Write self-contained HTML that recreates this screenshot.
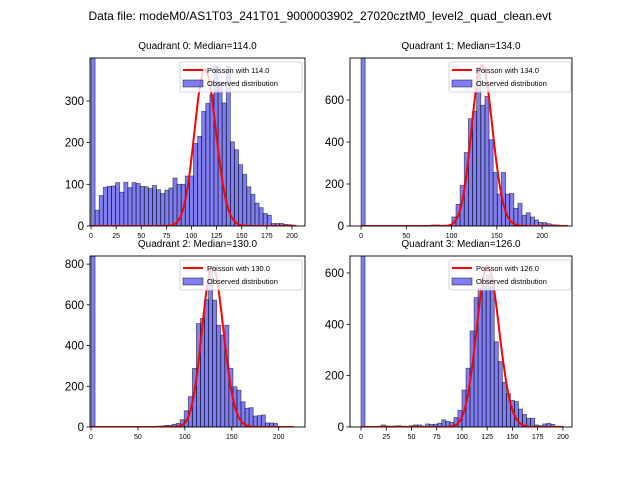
<!DOCTYPE html>
<html><head><meta charset="utf-8"><style>
body{margin:0;background:#fff;width:640px;height:480px;overflow:hidden}
svg text{font-family:"Liberation Sans","DejaVu Sans",sans-serif;fill:#000}
</style></head><body>
<svg id="fig" width="640" height="480" viewBox="0 0 640 480" xmlns="http://www.w3.org/2000/svg">
<text x="320" y="20" font-size="12" text-anchor="middle">Data file: modeM0/AS1T03_241T01_9000003902_27020cztM0_level2_quad_clean.evt</text>
</svg>
<script>
const q0Counts=[900,38,73,93,95,96,104,81,105,92,104,102,95,94,90,97,87,78,86,91,115,100,100,120,120,198,215,275,294,315,384,346,295,383,202,183,147,124,94,76,55,44,30,26,6,6,6,4,3,2];
const q1Counts=[1000,0,0,0,0,0,0,0,0,0,0,0,0,0,0,2,3,5,5,3,2,5,43,103,194,350,511,546,754,575,617,411,255,152,255,152,155,84,108,51,63,43,29,17,16,11,6,5,3,3];
const q2Counts=[1000,0,0,0,0,0,0,0,0,0,0,0,0,0,2,3,4,5,8,8,13,18,36,80,149,288,508,533,626,780,623,500,451,500,288,198,181,124,92,95,54,56,59,20,20,18,3,2,2,1];
const q3Counts=[1000,2,2,2,3,8,4,3,4,5,3,3,5,8,8,4,12,10,11,15,28,22,18,37,65,144,229,374,504,540,547,590,547,332,255,174,130,104,99,70,49,34,34,8,5,12,14,10,3,3];
const medians=[114,134,130,126];
const peakHeights=[375,765,786,625];
const dataMax=[204,228,216,200];
const xTicks=[[0,25,50,75,100,125,150,175,200],[0,50,100,150,200],[0,50,100,150,200],[0,25,50,75,100,125,150,175,200]];
const yTicks=[[0,100,200,300],[0,200,400,600],[0,200,400,600,800],[0,200,400,600]];
const counts=[q0Counts,q1Counts,q2Counts,q3Counts];
const panels=[
 {l:90,r:305,t:58,b:226,xmin:-1,xmax:213,ymax:403},
 {l:350,r:572,t:58,b:226,xmin:-12.2,xmax:233,ymax:800},
 {l:90,r:305,t:256,b:427,xmin:-1.06,xmax:228,ymax:840},
 {l:350,r:572,t:256,b:427,xmin:-10.9,xmax:209,ymax:666}];
const NS="http://www.w3.org/2000/svg";
const svg=document.getElementById('fig');
function mk(tag,attrs,parent){const e=document.createElementNS(NS,tag);for(const k in attrs)e.setAttribute(k,attrs[k]);(parent||svg).appendChild(e);return e;}
function lnFact(k){let s=0;for(let i=2;i<=k;i++)s+=Math.log(i);return s;}
panels.forEach((p,qi)=>{
 const g=mk('g',{});
 
 
 const X=v=>p.l+(v-p.xmin)/(p.xmax-p.xmin)*(p.r-p.l);
 const Y=v=>p.b-v/p.ymax*(p.b-p.t);
 const cid='clip'+qi;
 const cp=mk('clipPath',{id:cid},g);mk('rect',{x:p.l,y:p.t,width:p.r-p.l,height:p.b-p.t},cp);
 const plot=mk('g',{'clip-path':'url(#'+cid+')'},g);
 const bw=dataMax[qi]/counts[qi].length;
 counts[qi].forEach((c,i)=>{
  const x0=X(i*bw),x1=X((i+1)*bw);
  const r=mk('rect',{x:x0,y:Y(c),width:x1-x0,height:Math.max(0,p.b-Y(c)),fill:'rgba(0,0,230,0.5)',stroke:'rgba(0,0,0,0.55)','stroke-width':0.8},plot);
  
  
 });
 const mu=medians[qi];const peakPmf=Math.exp(Math.floor(mu)*Math.log(mu)-mu-lnFact(Math.floor(mu)));
 let d='';
 for(let k=0;k<=dataMax[qi];k++){
  const pm=Math.exp(k*Math.log(mu)-mu-lnFact(k));
  const v=pm/peakPmf*peakHeights[qi];
  d+=(k?'L':'M')+X(k).toFixed(1)+','+Y(v).toFixed(1);
 }
 const ln=mk('path',{d:d,fill:'none',stroke:'#ff0000','stroke-width':2},plot);
 
 
 const fr=mk('rect',{x:p.l,y:p.t,width:p.r-p.l,height:p.b-p.t,fill:'none',stroke:'#000','stroke-width':0.9},g);
 
 
 xTicks[qi].forEach(v=>{
  mk('line',{x1:X(v),x2:X(v),y1:p.b,y2:p.b+3.5,stroke:'#000','stroke-width':0.8},g);
  const t=mk('text',{x:X(v),y:p.b+12,'font-size':7,'text-anchor':'middle'},g);t.textContent=v;
  
  
 });
 yTicks[qi].forEach(v=>{
  mk('line',{x1:p.l-3.5,x2:p.l,y1:Y(v),y2:Y(v),stroke:'#000','stroke-width':0.8},g);
  const t=mk('text',{x:p.l-6,y:Y(v)+4,'font-size':11.5,'text-anchor':'end'},g);t.textContent=v;
  
  
 });
 const tt=mk('text',{x:(p.l+p.r)/2,y:p.t-9,'font-size':10,'text-anchor':'middle'},g);
 tt.textContent='Quadrant '+qi+': Median='+mu.toFixed(1);
 
 
 const lg=mk('g',{},g);
 
 
 const lx=p.r-125+(qi%2?2:0),ly=p.t+4;
 mk('rect',{x:lx,y:ly,width:122,height:30,fill:'#fff','fill-opacity':0.8,stroke:'#ccc','stroke-width':0.8,rx:2},lg);
 mk('line',{x1:lx+3,x2:lx+23,y1:ly+8,y2:ly+8,stroke:'#ff0000','stroke-width':2},lg);
 const t1=mk('text',{x:lx+27,y:ly+11,'font-size':7.5},lg);t1.textContent='Poisson with '+mu.toFixed(1);
 
 
 mk('rect',{x:lx+3,y:ly+18,width:20,height:7,fill:'rgba(0,0,230,0.5)',stroke:'rgba(0,0,0,0.55)','stroke-width':0.8},lg);
 const t2=mk('text',{x:lx+27,y:ly+24,'font-size':7.5},lg);t2.textContent='Observed distribution';
 
 
});
</script>
</body></html>
